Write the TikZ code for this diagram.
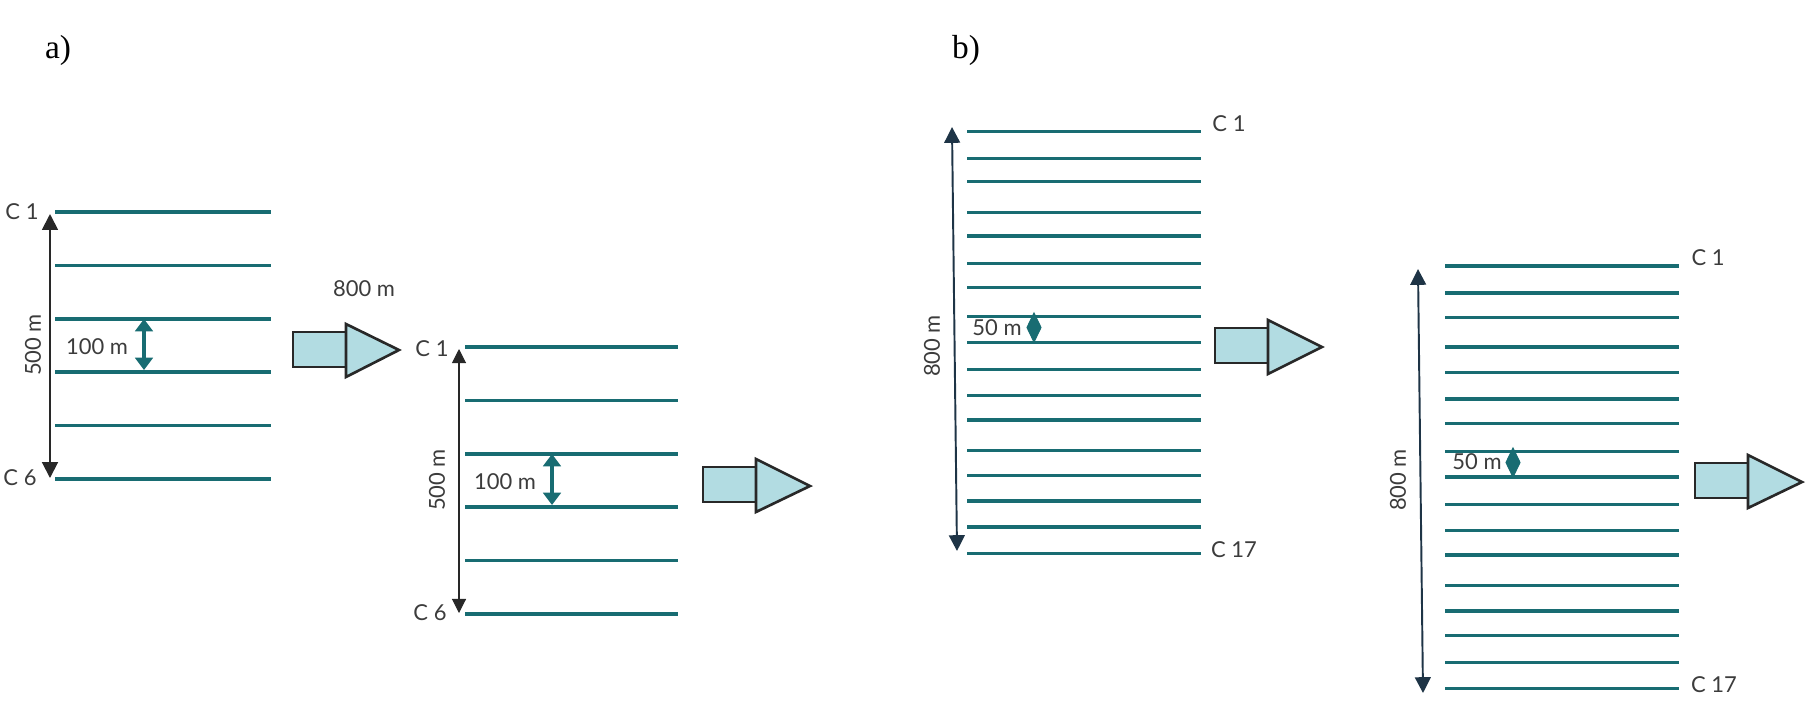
\documentclass[tikz,border=0pt]{standalone}
\usepackage{fontspec}
\setmainfont{Liberation Serif}
\newfontfamily\labfont{Lato}
\usetikzlibrary{arrows.meta}
\definecolor{teal1}{RGB}{24,108,114}
\definecolor{navy1}{RGB}{30,52,70}
\definecolor{ink}{RGB}{40,40,40}
\definecolor{txt}{RGB}{60,60,60}
\definecolor{boxfill}{RGB}{178,220,226}
\tikzset{
  well/.style={draw=teal1,line width=2pt},
  lab/.style={inner sep=0pt,text=txt,font=\labfont\fontsize{12.5}{14}\selectfont},
  panellab/.style={inner sep=0pt,text=black,font=\fontsize{19}{22}\selectfont},
  dimA/.style={draw=ink,line width=1.1pt,{Triangle[width=9pt,length=9pt]}-{Triangle[width=9pt,length=9pt]}},
  dimAthin/.style={draw=ink,line width=0.6pt,{Triangle[width=8pt,length=8pt]}-{Triangle[width=8pt,length=8pt]}},
  dimB/.style={draw=navy1,line width=1.1pt,{Triangle[width=9pt,length=9pt]}-{Triangle[width=9pt,length=9pt]}},
  spacing/.style={draw=teal1,fill=teal1,line width=2.8pt,{Triangle[width=10pt,length=7pt]}-{Triangle[width=10pt,length=7pt]}},
  diam/.style={fill=teal1,draw=teal1,line width=0.6pt},
  blk/.style={fill=boxfill,draw=ink,line width=1.5pt,line join=miter}
}
\begin{document}
\begin{tikzpicture}[x=0.02cm,y=-0.02cm]
\useasboundingbox (0,0) rectangle (1819,708);
% panel labels
\node[panellab] (pa) at (58,50) {a)};
\node[panellab] (pb) at (966,50) {b)};

% ---------- panel a, left ----------
\foreach \i in {1,...,6}{
  \pgfmathsetmacro\yy{212+53.4*(\i-1)}
  \coordinate (aL\i) at (55,\yy);
  \coordinate (aR\i) at (271,\yy);
  \draw[well] (aL\i) -- (aR\i);
}
\coordinate (aT) at (50,214);
\coordinate (aB) at (50,478);
\draw[dimA] (aT) -- (aB);
\node[lab] (ac1) at (22,212) {C 1};
\node[lab] (ac6) at (20,478) {C 6};
\node[lab,rotate=90] (a500) at (33,345) {500 m};
\node[lab] (a100) at (97,347) {100 m};
\coordinate (as1) at (144,319);
\coordinate (as2) at (144,370);
\draw[spacing] (as1) -- (as2);

% block arrow 1
\node[lab] (a800) at (364,289) {800 m};
\draw[blk] (293,332) rectangle (346,367);
\draw[blk] (346,324) -- (399,350) -- (346,377) -- cycle;

% ---------- panel a, right ----------
\foreach \i in {1,...,6}{
  \pgfmathsetmacro\yy{347+53.4*(\i-1)}
  \coordinate (bL\i) at (465,\yy);
  \coordinate (bR\i) at (678,\yy);
  \draw[well] (bL\i) -- (bR\i);
}
\coordinate (bT) at (459,349);
\coordinate (bB) at (459,613);
\draw[dimAthin] (bT) -- (bB);
\node[lab] (bc1) at (432,349) {C 1};
\node[lab] (bc6) at (430,613) {C 6};
\node[lab,rotate=90] (b500) at (437,480) {500 m};
\node[lab] (b100) at (505,482) {100 m};
\coordinate (bs1) at (552,454);
\coordinate (bs2) at (552,505);
\draw[spacing] (bs1) -- (bs2);

% block arrow 2
\draw[blk] (703,467) rectangle (756,502);
\draw[blk] (756,459) -- (810,486) -- (756,512) -- cycle;

% ---------- panel b, left ----------
\foreach \yy [count=\i] in {131.7,158.3,181.7,212.3,236,263.7,287.3,316.7,342.3,369.3,395.3,420,450.7,475.3,501,527,553.7}{
  \coordinate (cL\i) at (967,\yy);
  \coordinate (cR\i) at (1201,\yy);
  \draw[well] (cL\i) -- (cR\i);
}
\coordinate (cT) at (952,127);
\coordinate (cB) at (957,551);
\draw[dimB] (cT) -- (cB);
\node[lab] (cc1) at (1229,124) {C 1};
\node[lab] (cc17) at (1234,550) {C 17};
\node[lab,rotate=90] (c800) at (932,346) {800 m};
\node[lab] (c50) at (997,328) {50 m};
\draw[diam] (1034,313) -- (1041,327.5) -- (1034,342) -- (1027,327.5) -- cycle;

% block arrow 3
\draw[blk] (1215,328) rectangle (1268,363);
\draw[blk] (1268,320) -- (1322,347) -- (1268,374) -- cycle;

% ---------- panel b, right ----------
\foreach \yy [count=\i] in {266,293,317.3,347,372.3,399,423.3,451.7,477,504.3,530.3,555,585.7,611,635.7,662.3,688.7}{
  \coordinate (dL\i) at (1445,\yy);
  \coordinate (dR\i) at (1679,\yy);
  \draw[well] (dL\i) -- (dR\i);
}
\coordinate (dT) at (1418,269);
\coordinate (dB) at (1423,693);
\draw[dimB] (dT) -- (dB);
\node[lab] (dc1) at (1708,258) {C 1};
\node[lab] (dc17) at (1714,685) {C 17};
\node[lab,rotate=90] (d800) at (1398,480) {800 m};
\node[lab] (d50) at (1477,462) {50 m};
\draw[diam] (1513,448) -- (1520,462.5) -- (1513,477) -- (1506,462.5) -- cycle;

% block arrow 4
\draw[blk] (1695,463) rectangle (1748,498);
\draw[blk] (1748,455) -- (1802,482) -- (1748,508) -- cycle;
\end{tikzpicture}
\end{document}
